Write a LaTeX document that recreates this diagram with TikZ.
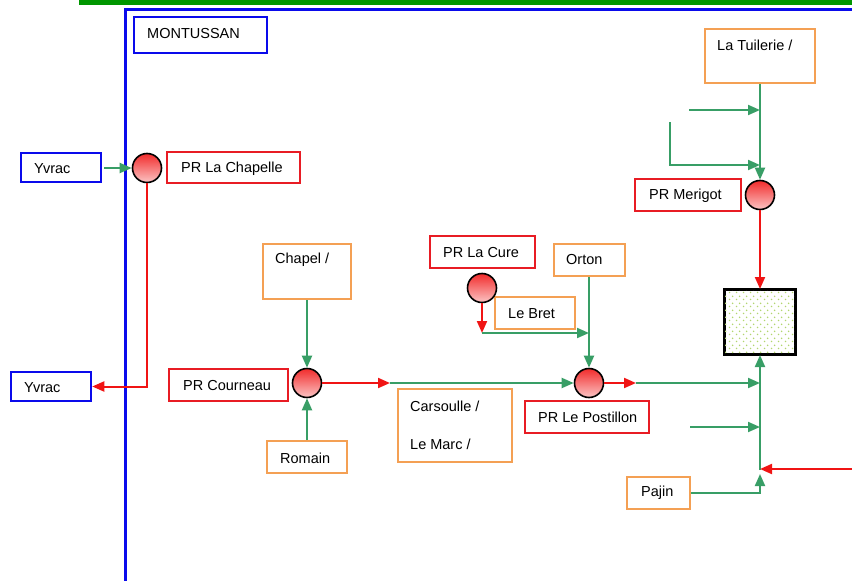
\documentclass[tikz,border=0pt]{standalone}
\usepackage{fontspec}
\setmainfont{Liberation Sans}
\usetikzlibrary{arrows.meta,patterns}
\definecolor{flowgreen}{RGB}{56,158,102}
\definecolor{flowred}{RGB}{240,20,20}
\definecolor{boxorange}{RGB}{244,160,84}
\definecolor{boxred}{RGB}{232,28,36}
\definecolor{zoneblue}{RGB}{10,10,235}
\definecolor{barsgreen}{RGB}{0,150,0}
\definecolor{dotgreen}{RGB}{178,214,110}
% staggered dots for the plant
\pgfdeclarepatternformonly{plantdots}{\pgfpointorigin}{\pgfpoint{7pt}{7pt}}{\pgfpoint{7pt}{7pt}}{%
  \pgfpathcircle{\pgfpoint{1.75pt}{1.75pt}}{0.95pt}%
  \pgfpathcircle{\pgfpoint{5.25pt}{5.25pt}}{0.95pt}%
  \pgfusepath{fill}}
\tikzset{
  tip/.style={-{Triangle[length=12pt,width=10pt]}},
  greenflow/.style={draw=flowgreen,line width=2pt},
  redflow/.style={draw=flowred,line width=2pt},
  dims/.style 2 args={minimum width=#1pt,minimum height=#2pt},
  bluebox/.style={draw=zoneblue,line width=2.5pt,inner sep=0pt},
  redbox/.style={draw=boxred,line width=2pt,inner sep=0pt},
  orangebox/.style={draw=boxorange,line width=2pt,inner sep=0pt},
  label text/.style={anchor=west,inner sep=0pt,font=\fontsize{14.5}{17}\selectfont},
  station/.style={circle,draw=black,line width=1.6pt,minimum size=29pt,inner sep=0pt,
    top color=flowred!90,bottom color=flowred!25},
}
\begin{document}
\begin{tikzpicture}[x=1pt,y=-1pt]
\useasboundingbox (0,0) rectangle (852,581);

% frame of the commune area
\fill[barsgreen] (79,0) rectangle (852,5);
\draw[zoneblue,line width=3pt] (125.5,581) -- (125.5,9.5) -- (852,9.5);

% boxes
\node[bluebox,dims={133}{36}] (mont) at (200.5,35) {};
\node[label text] (montT) at (147,34) {MONTUSSAN};
\node[bluebox,dims={80}{29}] (yv1) at (61,167.5) {};
\node[label text] (yv1T) at (34,169) {Yvrac};
\node[bluebox,dims={80}{29}] (yv2) at (51,386.5) {};
\node[label text] (yv2T) at (24,388) {Yvrac};

\node[redbox,dims={133}{31}] (chapB) at (233.5,167.5) {};
\node[label text] (chapBT) at (181,168.5) {PR La Chapelle};
\node[redbox,dims={119}{32}] (courB) at (228.5,385) {};
\node[label text] (courBT) at (183,385.5) {PR Courneau};
\node[redbox,dims={105}{32}] (cureB) at (482.5,252) {};
\node[label text] (cureBT) at (443,253) {PR La Cure};
\node[redbox,dims={124}{32}] (postB) at (587,417) {};
\node[label text] (postBT) at (538,417.5) {PR Le Postillon};
\node[redbox,dims={106}{32}] (merB) at (688,195) {};
\node[label text] (merBT) at (649,196) {PR Merigot};

\node[orangebox,dims={88}{55}] (chapel) at (307,271.5) {};
\node[label text] (chapelT) at (275,260) {Chapel /};
\node[orangebox,dims={80}{32}] (romain) at (307,457) {};
\node[label text] (romainT) at (280,458) {Romain};
\node[orangebox,dims={114}{73}] (cars) at (455,425.5) {};
\node[label text] (carsT) at (410,406) {Carsoulle /};
\node[label text] (marcT) at (410,444) {Le Marc /};
\node[orangebox,dims={71}{32}] (orton) at (589,260) {};
\node[label text] (ortonT) at (566,260) {Orton};
\node[orangebox,dims={80}{32}] (bret) at (535,313) {};
\node[label text] (bretT) at (508,314) {Le Bret};
\node[orangebox,dims={110}{54}] (tuil) at (760,56) {};
\node[label text] (tuilT) at (717,45) {La Tuilerie /};
\node[orangebox,dims={63}{32}] (pajin) at (658.5,493) {};
\node[label text] (pajinT) at (641,493) {Pajin};

% treatment plant
\node[draw=black,line width=2pt,fill=white,dims={70}{64},inner sep=0pt] (sq) at (760,322) {};
\fill[pattern=plantdots,pattern color=dotgreen] (sq.south west) rectangle (sq.north east);
\draw[black,line width=2pt] (sq.south west) rectangle (sq.north east);

% pumping stations
\node[station] (cChap) at (147,168) {};
\node[station] (cCour) at (307,383) {};
\node[station] (cCure) at (482,288) {};
\node[station] (cPost) at (589,383) {};
\node[station] (cMer) at (760,195) {};

% free ends of the connectors
\coordinate (yvOut) at (104,168);
\coordinate (courTip) at (390,383);
\coordinate (cureTip) at (482,333);
\coordinate (postTip) at (636,383);
\coordinate (in1) at (689,110);
\coordinate (in2) at (670,122);
\coordinate (in2b) at (670,165);
\coordinate (in3) at (690,427);
\coordinate (redIn) at (852,469);
\coordinate (pajTip) at (760,474);
\coordinate (trunk) at (760,470);

% connectors
\draw[greenflow,tip] (yvOut) -- (cChap.west);
\draw[redflow,tip] (cChap.south) |- (yv2.east);

\draw[greenflow,tip] (chapel.south) -- (cCour.north);
\draw[greenflow,tip] (romain.north) -- (cCour.south);
\draw[redflow,tip] (cCour.east) -- (courTip);
\draw[greenflow,tip] (courTip) -- (cPost.west);

\draw[redflow,tip] (cCure.south) -- (cureTip);
\draw[greenflow,tip] (cureTip) -- (cureTip -| orton.south);
\draw[greenflow,tip] (orton.south) -- (cPost.north);
\draw[redflow,tip] (cPost.east) -- (postTip);
\draw[greenflow,tip] (postTip) -- (postTip -| sq.south);

\draw[greenflow,tip] (tuil.south) -- (cMer.north);
\draw[greenflow,tip] (in1) -- (in1 -| tuil.south);
\draw[greenflow,tip] (in2) -- (in2b) -- (in2b -| tuil.south);
\draw[redflow,tip] (cMer.south) -- (sq.north);

\draw[greenflow,tip] (pajin.east) -| (pajTip);
\draw[greenflow,tip] (trunk) -- (sq.south);
\draw[greenflow,tip] (in3) -- (in3 -| sq.south);
\draw[redflow,tip] (redIn) -- (redIn -| sq.south);
\end{tikzpicture}
\end{document}
